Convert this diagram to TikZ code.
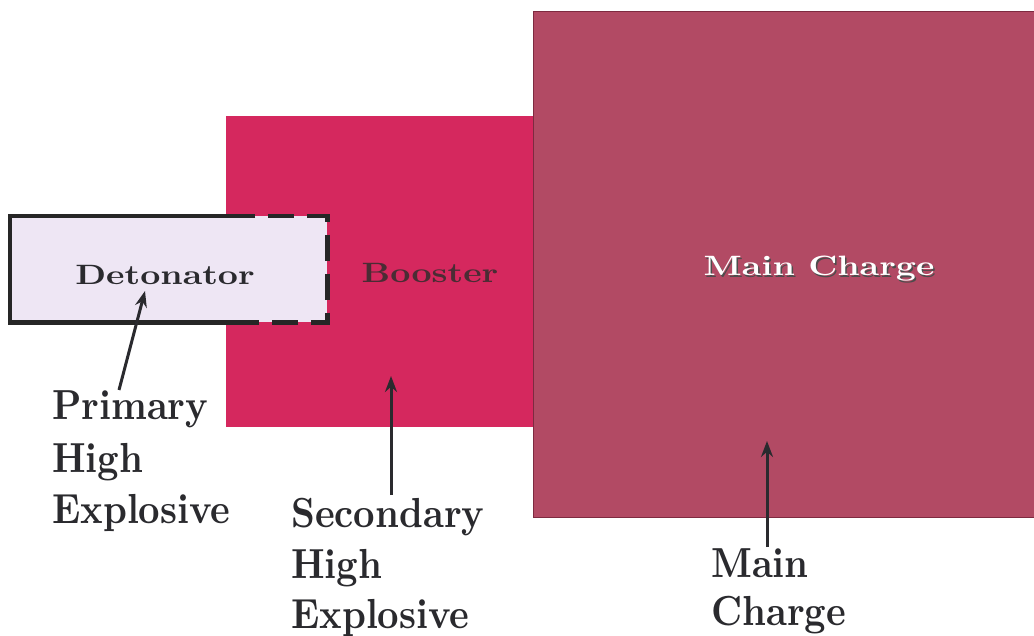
\documentclass[tikz,border=0pt]{standalone}
\usepackage{fontspec}
\usepackage{graphicx}
\newfontfamily\lmbf{lmroman10-bold}[Extension=.otf]
\usetikzlibrary{calc,arrows.meta}
\definecolor{maincol}{HTML}{B24A64}
\definecolor{mainedge}{HTML}{7E2A40}
\definecolor{boostcol}{HTML}{D5285E}
\definecolor{detfill}{HTML}{EEE6F4}
\definecolor{inkcol}{HTML}{2A2A2E}
\definecolor{boosttext}{HTML}{4A2C34}
\newcommand\widetxt[1]{\scalebox{1.25}[1]{#1}}
\newcommand\labtxt[1]{\scalebox{0.89}[1]{#1}}
\tikzset{
  inner/.style={font=\lmbf\fontsize{28}{32}\selectfont, inner sep=0pt, anchor=base},
  lab/.style={font=\lmbf\fontsize{42}{50}\selectfont, text=inkcol, inner sep=0pt, anchor=base west},
  arr/.style={draw=inkcol, line width=3pt, -{Stealth[length=16pt,width=12pt]}},
  border/.style={draw=black!85, line width=4.5pt}
}
\begin{document}
\begin{tikzpicture}[x=1pt,y=-1pt]
\useasboundingbox (0,0) rectangle (1034,636);
% booster
\node[fill=boostcol, minimum width=309pt, minimum height=311pt, inner sep=0pt, anchor=north west] (boost) at (226,116) {};
% main charge
\node[fill=maincol, minimum width=502pt, minimum height=505pt, inner sep=0pt, anchor=north west] (main) at (533,12) {};
\draw[mainedge, line width=1pt] (main.north east) -- (main.north west) -- (main.south west) -- (main.south east);
% detonator
\node[fill=detfill, minimum width=317pt, minimum height=106pt, inner sep=0pt, anchor=north west] (det) at (10,216) {};
\coordinate (dtop) at ($(det.north west)+(245,0)$);
\coordinate (dbot) at ($(det.south west)+(245,0)$);
\draw[border, line join=miter] (dtop) -- (det.north west) -- (det.south west) -- (dbot);
\draw[border, line join=miter, dash pattern=on 26pt off 13pt, dash phase=26pt] (dtop) -- (det.north east) -- (det.south east) -- (dbot);
% inner texts
\node[inner, text=inkcol] (dett) at (165,285) {\widetxt{Detonator}};
\node[inner, text=boosttext] (boostt) at (430,283) {\widetxt{Booster}};
\node[inner, text=black!70] (maintsh) at (820.5,277.5) {\widetxt{Main Charge}};
\node[inner, text=white] (maint) at (819,276) {\widetxt{Main Charge}};
% labels
\node[lab] (p1) at (52,420) {\labtxt{Primary}};
\node[lab] (p2) at (52,472) {\labtxt{High}};
\node[lab] (p3) at (52,523) {\labtxt{Explosive}};
\node[lab] (s1) at (291,527) {\labtxt{Secondary}};
\node[lab] (s2) at (291,578) {\labtxt{High}};
\node[lab] (s3) at (291,628) {\labtxt{Explosive}};
\node[lab] (m1) at (711,577) {\labtxt{Main}};
\node[lab] (m2) at (711,625) {\labtxt{Charge}};
% arrows
\coordinate (pfoot) at (119,390);
\coordinate (ptip) at (145,291);
\coordinate (sfoot) at (391,495);
\coordinate (stip) at (391,376);
\coordinate (mfoot) at (767,547);
\coordinate (mtip) at (767,441);
\draw[arr] (pfoot) -- (ptip);
\draw[arr] (sfoot) -- (stip);
\draw[arr] (mfoot) -- (mtip);
\end{tikzpicture}
\end{document}
